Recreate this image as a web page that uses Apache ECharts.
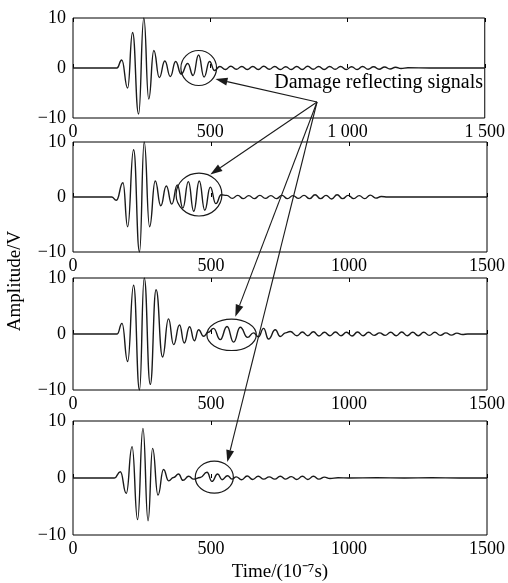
<!DOCTYPE html>
<html lang="en">
<head>
    <meta charset="UTF-8">
    <title>Damage reflecting signals</title>
    <script src="https://cdn.jsdelivr.net/npm/echarts@6/dist/echarts.min.js"></script>
    <style>html, body { margin: 0; padding: 0; background: #fff; }</style>
</head>
<body>

    <div id="main" style="width: 508px;height:583px;"></div>

    <script type="text/javascript">
        // four received signals, [time (1e-7 s), amplitude (V)]
        var signal1 = [
            [0, 0], [160, 0], [177.5, 1.6], [199, -4], [217, 7.1], [239, -9.2], [258, 10], [276, -6.2],
            [294.5, 3.5], [314.5, -1.9], [334.5, 1.4], [354.5, -1.7], [374, 1.3], [394, -1.2],
            [418, 0.9], [437.5, -1.5], [457.5, 2.6], [477.5, -1.8], [497.5, 1.3], [515.5, -0.5],
            [535, 0.3], [555, -0.3], [575, 0.35], [595, -0.25], [615, 0.3], [635, -0.3], [655, 0.3],
            [675, -0.3], [695, 0.35], [715, -0.25], [735, 0.3], [755, -0.3], [775, 0.25], [795, -0.3],
            [815, 0.3], [835, -0.3], [855, 0.35], [875, -0.25], [895, 0.3], [915, -0.3], [935, 0.3],
            [955, -0.25], [975, 0.3], [995, -0.3], [1015, 0.25], [1035, -0.3], [1055, 0.3], [1075, -0.25],
            [1095, 0.25], [1115, -0.25], [1135, 0.2], [1155, -0.2], [1175, 0.15], [1195, -0.1],
            [1220, 0.05], [1300, 0], [1400, 0], [1500, 0]
        ];
        var signal2 = [
            [0, 0], [140, 0], [157, -0.6], [181, 2.6], [198, -5.4], [219.5, 8.6], [241, -10], [258, 10],
            [277.5, -5.4], [298, 2.9], [318, -1.6], [338, 2], [358, -1.3], [378, 2.2], [398, -2],
            [418, 2.8], [437.5, -2.6], [457.5, 2.9], [477.5, -2.4], [497.5, 1.8], [517.5, -1.2], [537, 0.4],
            [557, 0.3], [577, -0.25], [597, 0.3], [617, -0.3], [637, 0.25], [657, -0.3], [677, 0.3],
            [697, -0.25], [717, 0.25], [737, -0.3], [757, 0.3], [777, -0.3], [797, 0.25], [817, -0.25],
            [837, 0.3], [857, -0.3], [877, 0.4], [897, -0.3], [917, 0.3], [937, -0.35], [957, 0.4],
            [977, -0.3], [997, 0.3], [1017, -0.3], [1037, 0.25], [1057, -0.3], [1077, 0.35], [1097, -0.2],
            [1117, 0.1], [1140, 0], [1500, 0]
        ];
        var signal3 = [
            [0, 0], [160, 0], [177.5, 1.9], [198, -4.9], [219.5, 8.7], [241, -10], [258, 10], [280, -9],
            [301, 7.9], [324.5, -4.1], [346, 2.7], [364.5, -1.9], [386, 1.6], [403, -1.6], [422.5, 1.3],
            [439.5, -1.2], [455, 0.75], [473, -0.4], [490, 0.3], [509, 1], [533.5, -1], [558, 1.35],
            [582, -1.45], [606, 1.2], [632.5, -0.6], [654, 0.2], [672, -0.5], [690.5, 1], [708.5, -0.9],
            [733, 0.75], [751, -0.45], [770, 0.2], [787, 0.45], [811.5, -0.3],
            [831, 0.35], [851, -0.3], [871, 0.4], [891, -0.35], [911, 0.3], [931, -0.3], [951, 0.35],
            [971, -0.3], [991, 0.3], [1011, -0.35], [1031, 0.35], [1051, -0.3], [1071, 0.3], [1091, -0.25],
            [1111, 0.2], [1131, -0.25], [1151, 0.3], [1171, -0.3], [1191, 0.35], [1211, -0.3], [1231, 0.3],
            [1251, -0.3], [1271, 0.3], [1291, -0.25], [1311, 0.3], [1331, -0.25], [1351, 0.2], [1371, -0.2],
            [1391, 0.15], [1411, -0.1], [1430, 0], [1500, 0]
        ];
        var signal4 = [
            [0, 0], [150, 0], [171.5, 1.1], [193, -2.7], [214, 5.5], [234, -7.3], [253.5, 8.7], [272, -7.5],
            [288.5, 5.2], [308, -3], [328, 1.5], [346.5, -0.5], [364.5, 0.1], [382.5, 0.7], [398.5, -0.4],
            [419, 0.3], [437, -0.2], [461, 0.1], [485.5, 1], [503.5, -0.6], [524, 0.7], [540, -0.3],
            [560, 0.4], [576, -0.2], [591.5, 0.2],
            [611, -0.3], [631, 0.35], [651, -0.25], [671, 0.3], [691, -0.2], [711, 0.2], [731, -0.2],
            [751, 0.3], [771, -0.2], [791, 0.25], [811, -0.25], [831, 0.3], [851, -0.25], [871, 0.3],
            [891, -0.2], [911, 0.15], [931, -0.1], [960, 0.05], [1000, 0], [1100, 0.05], [1200, 0],
            [1300, 0.05], [1400, 0], [1500, 0]
        ];
        var signals = [signal1, signal2, signal3, signal4];

        // tick labels (the top panel writes thousands with a space)
        var xTicksTop = ['0', '500', '1 000', '1 500'];
        var xTicks = ['0', '500', '1000', '1500'];
        var yTicks = ['\u221210', '0', '10'];

        // annotation: ellipse [cx, cy, rx, ry] around each reflection, in data units
        var rings = [[458, 0, 65, 3.5], [456.5, 0.45, 83, 3.9], [574.6, -0.15, 89.5, 2.8], [512, 0.15, 69, 2.8]];
        var arrowTips = [[519, -2.2], [497.5, 4.1], [588, 3.1], [559, 2.8]];
        var arrowFrom = [889, -6.8];   // in panel 1
        var noteAt = [733, -2.9];      // in panel 1

        var myChart = echarts.init(document.getElementById('main'));

        var font = 'Liberation Serif';
        var tops = [18, 142, 278, 421];
        var heights = [100, 110, 112, 114];

        var grid = [], xAxis = [], yAxis = [], series = [];
        for (var i = 0; i < 4; i++) {
            grid.push({
                left: 73, right: 21, top: tops[i], height: heights[i],
                show: true, borderColor: '#000', borderWidth: 1
            });
            (function (labels) {
                xAxis.push({
                    type: 'value', gridIndex: i, min: 0, max: 1500, interval: 500,
                    axisLine: { show: false }, splitLine: { show: false },
                    axisTick: { inside: true, length: 4, lineStyle: { color: '#000' } },
                    axisLabel: {
                        margin: 5, color: '#000', fontFamily: font, fontSize: 18,
                        formatter: function (v) { return labels[v / 500]; }
                    },
                    name: i === 3 ? 'Time/(10\u207B\u2077s)' : '',
                    nameLocation: 'middle', nameGap: 28,
                    nameTextStyle: { color: '#000', fontFamily: font, fontSize: 19 }
                });
            })(i === 0 ? xTicksTop : xTicks);
            // mirrored ticks on the top edge
            xAxis.push({
                type: 'value', gridIndex: i, position: 'top', min: 0, max: 1500, interval: 500,
                axisLine: { show: false }, splitLine: { show: false }, axisLabel: { show: false },
                axisTick: { inside: true, length: 4, lineStyle: { color: '#000' } }
            });
            yAxis.push({
                type: 'value', gridIndex: i, min: -10, max: 10, interval: 10,
                axisLine: { show: false }, axisTick: { show: false }, splitLine: { show: false },
                axisLabel: {
                    margin: 7, color: '#000', fontFamily: font, fontSize: 18,
                    formatter: function (v) { return yTicks[(v + 10) / 10]; }
                }
            });
            series.push({
                type: 'line', xAxisIndex: i * 2, yAxisIndex: i,
                data: signals[i], showSymbol: false, smooth: 0.5, smoothMonotone: 'x',
                lineStyle: { color: '#1a1a1a', width: 1.4 }
            });
        }

        myChart.setOption({ animation: false, grid: grid, xAxis: xAxis, yAxis: yAxis, series: series });

        // 标注：椭圆 + 箭头 + 文字
        function toPx(i, p) { return myChart.convertToPixel({ seriesIndex: i }, p); }

        var graphic = [];
        var from = toPx(0, arrowFrom);
        for (var k = 0; k < 4; k++) {
            var r = rings[k];
            var c = toPx(k, [r[0], r[1]]);
            var e = toPx(k, [r[0] + r[2], r[1] + r[3]]);
            graphic.push({
                type: 'ellipse',
                shape: { cx: c[0], cy: c[1], rx: Math.abs(e[0] - c[0]), ry: Math.abs(e[1] - c[1]) },
                style: { fill: null, stroke: '#1a1a1a', lineWidth: 1.2 }
            });

            var t = toPx(k, arrowTips[k]);
            var dx = t[0] - from[0], dy = t[1] - from[1];
            var len = Math.sqrt(dx * dx + dy * dy);
            var ux = dx / len, uy = dy / len;
            var bx = t[0] - ux * 12, by = t[1] - uy * 12;
            graphic.push({
                type: 'line',
                shape: { x1: from[0], y1: from[1], x2: bx, y2: by },
                style: { stroke: '#1a1a1a', lineWidth: 1.1 }
            });
            graphic.push({
                type: 'polygon',
                shape: { points: [[t[0], t[1]], [bx - uy * 4, by + ux * 4], [bx + uy * 4, by - ux * 4]] },
                style: { fill: '#1a1a1a' }
            });
        }

        var n = toPx(0, noteAt);
        graphic.push({
            type: 'text', x: n[0], y: n[1],
            style: {
                text: 'Damage reflecting signals', fill: '#000', font: '20px "Liberation Serif"',
                verticalAlign: 'middle'
            }
        });
        graphic.push({
            type: 'text', x: 15, y: 281, rotation: Math.PI / 2,
            style: {
                text: 'Amplitude/V', fill: '#000', font: '19px "Liberation Serif"',
                align: 'center', verticalAlign: 'middle'
            }
        });

        myChart.setOption({ graphic: graphic });
    </script>
</body>
</html>
